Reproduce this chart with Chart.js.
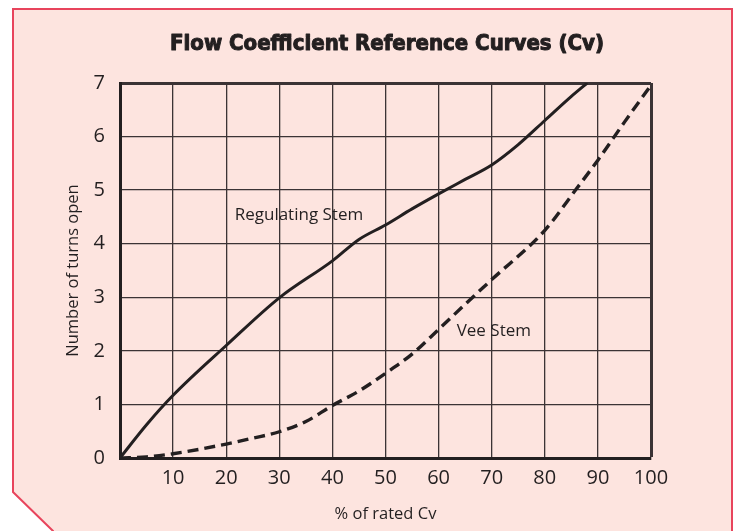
<!DOCTYPE html>
<html>
<head>
<meta charset="utf-8">
<title>Flow Coefficient Reference Curves (Cv)</title>
<script src="https://cdn.jsdelivr.net/npm/chart.js@4.4.1/dist/chart.umd.min.js"></script>
<style>
    html, body { margin: 0; padding: 0; background: #ffffff; }
    canvas { display: block; }
</style>
</head>
<body>
<canvas id="grafico_cv" width="737" height="531"></canvas>
<script>
// datos (% del Cv nominal contra numero de vueltas)
const pct_regulating = [0, 5, 10, 20, 30, 40, 45, 50, 55, 60, 65, 70, 75, 80, 85, 88]
const vueltas_regulating = [0, 0.62, 1.17, 2.1, 2.99, 3.68, 4.08, 4.35, 4.65, 4.93, 5.2, 5.47, 5.85, 6.3, 6.75, 7]

const pct_vee = [0, 5, 10, 20, 25, 30, 35, 40, 45, 50, 55, 60, 65, 70, 80, 86, 90, 95, 100]
const vueltas_vee = [0, 0.02, 0.08, 0.26, 0.37, 0.49, 0.68, 0.98, 1.25, 1.58, 1.94, 2.4, 2.87, 3.33, 4.25, 5.03, 5.56, 6.27, 6.96]

const ticks_x = [10, 20, 30, 40, 50, 60, 70, 80, 90, 100]
const ticks_y = [0, 1, 2, 3, 4, 5, 6, 7]

// nombres de las curvas y donde va cada rotulo (en unidades de los ejes)
const nombres_curvas = ['Regulating Stem', 'Vee Stem']
const rotulo_x = [33.7, 70.4]
const rotulo_y = [4.53, 2.37]

const titulo = 'Flow Coefficient Reference Curves (Cv)'

document.addEventListener('DOMContentLoaded', () => {
    dibujar_grafico()
})

function a_puntos(xs, ys) {
    return xs.map((x, i) => ({ x: x, y: ys[i] }))
}

function dibujar_grafico() {
    const negro = '#231f20'
    const rejilla = '#3b3335'
    const fuente = '"Open Sans", sans-serif'

    // fondo rosado con la esquina cortada y el titulo
    const fondo = {
        id: 'fondo',
        beforeDraw(chart) {
            const ctx = chart.ctx
            ctx.save()
            ctx.beginPath()
            ctx.moveTo(13, 9)
            ctx.lineTo(732, 9)
            ctx.lineTo(732, 540)
            ctx.lineTo(53, 540)
            ctx.lineTo(53, 531)
            ctx.lineTo(13, 492)
            ctx.closePath()
            ctx.fillStyle = '#fde4df'
            ctx.fill()
            ctx.lineWidth = 2
            ctx.strokeStyle = '#e8445c'
            ctx.stroke()

            // titulo grueso: relleno mas un trazo fino para engrosarlo
            ctx.fillStyle = negro
            ctx.strokeStyle = negro
            ctx.lineWidth = 1
            ctx.lineJoin = 'round'
            ctx.font = 'bold 22px "DejaVu Sans Condensed", "Liberation Sans Narrow", sans-serif'
            ctx.textAlign = 'center'
            ctx.textBaseline = 'middle'
            ctx.fillText(titulo, 387, 44)
            ctx.strokeText(titulo, 387, 44)
            ctx.restore()
        }
    }

    // rotulos de cada curva
    const rotulos = {
        id: 'rotulos',
        afterDatasetsDraw(chart) {
            const ctx = chart.ctx
            const sx = chart.scales.x
            const sy = chart.scales.y
            ctx.save()
            ctx.fillStyle = negro
            ctx.font = '17px ' + fuente
            ctx.textAlign = 'center'
            ctx.textBaseline = 'middle'
            nombres_curvas.forEach((nombre, i) => {
                ctx.fillText(nombre, sx.getPixelForValue(rotulo_x[i]), sy.getPixelForValue(rotulo_y[i]))
            })
            ctx.restore()
        }
    }

    const config = {
        type: 'line',
        data: {
            datasets: [{
                label: nombres_curvas[0],
                data: a_puntos(pct_regulating, vueltas_regulating),
                borderColor: negro,
                borderWidth: 3,
                pointRadius: 0,
                fill: false,
                cubicInterpolationMode: 'monotone'
            }, {
                label: nombres_curvas[1],
                data: a_puntos(pct_vee, vueltas_vee),
                borderColor: negro,
                borderWidth: 3.4,
                borderDash: [11, 6],
                pointRadius: 0,
                fill: false,
                cubicInterpolationMode: 'monotone'
            }]
        },
        options: {
            responsive: false,
            animation: false,
            layout: {
                padding: { left: 0, right: 86, top: 83, bottom: 0 }
            },
            plugins: {
                legend: { display: false },
                tooltip: { enabled: false },
                title: { display: false }
            },
            scales: {
                x: {
                    type: 'linear',
                    min: 0,
                    max: 100,
                    afterFit: (escala) => { escala.height = 73 },
                    border: { display: true, color: negro, width: 3 },
                    grid: {
                        color: rejilla,
                        drawTicks: false,
                        lineWidth: (c) => (c.tick && c.tick.value === 100) ? 3 : 1.3
                    },
                    ticks: {
                        stepSize: 10,
                        padding: 8,
                        color: negro,
                        font: { family: fuente, size: 20 },
                        callback: (valor) => ticks_x.includes(valor) ? String(valor) : ''
                    },
                    title: {
                        display: true,
                        text: '% of rated Cv',
                        color: negro,
                        font: { family: fuente, size: 16.5 },
                        padding: { top: 0, bottom: 7 }
                    }
                },
                y: {
                    min: 0,
                    max: 7,
                    afterFit: (escala) => { escala.width = 120 },
                    border: { display: true, color: negro, width: 3 },
                    grid: {
                        color: rejilla,
                        drawTicks: false,
                        lineWidth: (c) => (c.tick && c.tick.value === 7) ? 3 : 1.3
                    },
                    ticks: {
                        stepSize: 1,
                        padding: 15,
                        color: negro,
                        font: { family: fuente, size: 20 },
                        callback: (valor) => ticks_y.includes(valor) ? String(valor) : ''
                    },
                    title: {
                        display: true,
                        text: 'Number of turns open',
                        color: negro,
                        font: { family: fuente, size: 16.5 },
                        padding: { top: 63, bottom: 0 }
                    }
                }
            }
        },
        plugins: [fondo, rotulos]
    }

    const ctx = document.getElementById('grafico_cv').getContext('2d')
    new Chart(ctx, config)
}
</script>
</body>
</html>
